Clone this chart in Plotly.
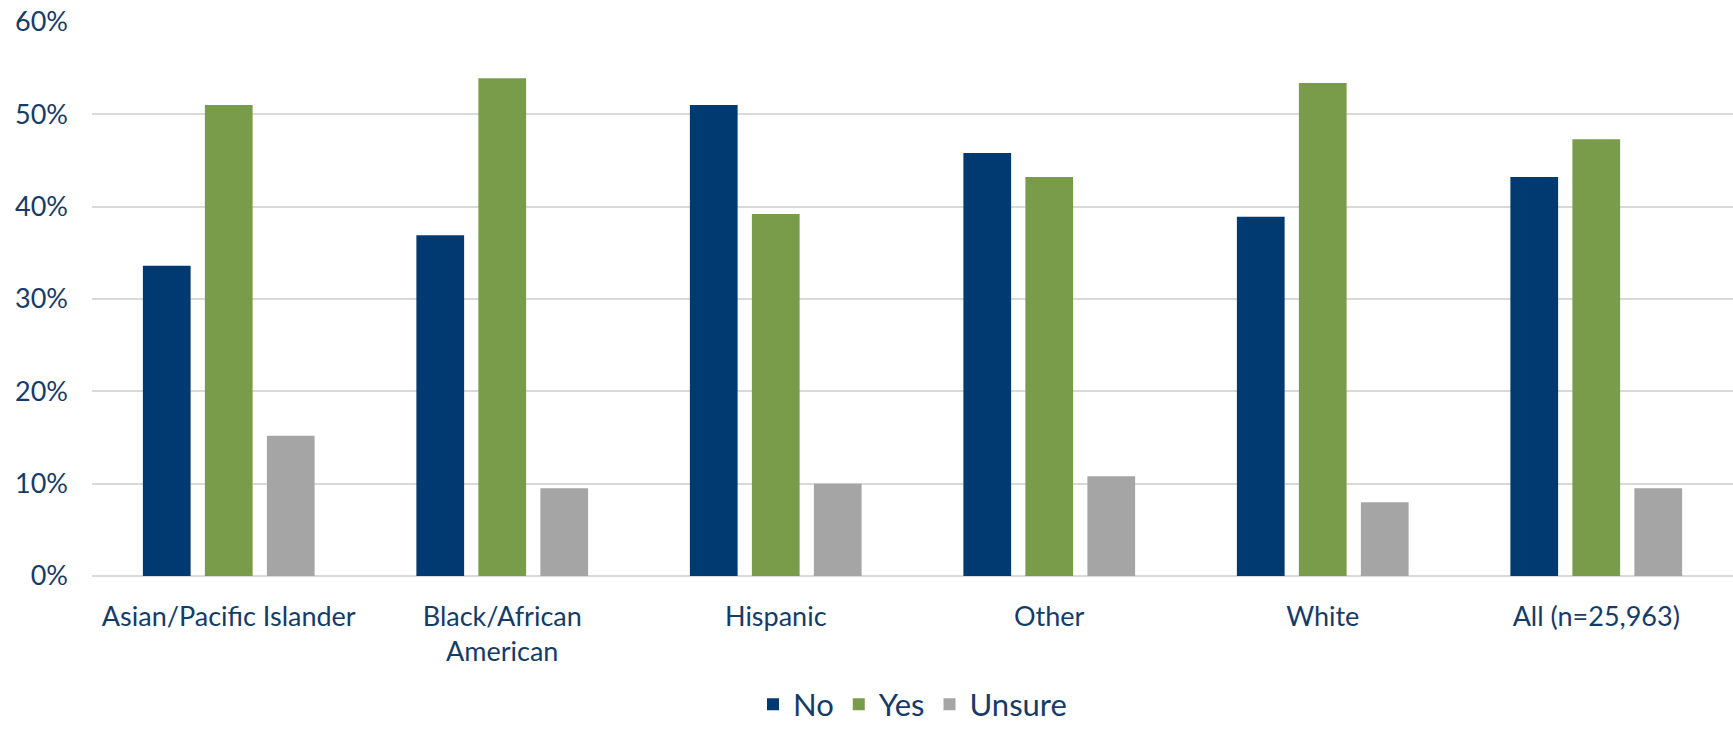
import plotly.graph_objects as go

categories = ["Asian/Pacific Islander", "Black/African<br>American", "Hispanic", "Other", "White", "All (n=25,963)"]
no_vals = [0.336, 0.369, 0.510, 0.458, 0.389, 0.432]
yes_vals = [0.510, 0.539, 0.392, 0.432, 0.534, 0.473]
unsure_vals = [0.152, 0.095, 0.100, 0.108, 0.080, 0.095]
tick_vals = [0, 0.1, 0.2, 0.3, 0.4, 0.5, 0.6]
tick_text = ["0%", "10%", "20%", "30%", "40%", "50%", "60%"]

text_color = "#143c6a"
font_family = "Lato, 'Open Sans', sans-serif"

fig = go.Figure()
for name, vals, color in [("No", no_vals, "#003a70"), ("Yes", yes_vals, "#789c4a"), ("Unsure", unsure_vals, "#a5a5a5")]:
    fig.add_trace(go.Bar(x=categories, y=vals, name=name, marker=dict(color=color, line=dict(width=0))))

fig.update_layout(
    width=1733, height=729,
    barmode="group", bargap=0.32, bargroupgap=0.23,
    plot_bgcolor="white", paper_bgcolor="white",
    margin=dict(l=92, r=0, t=22, b=153, autoexpand=False),
    font=dict(family=font_family, color=text_color),
    legend=dict(orientation="h", x=0.5, xanchor="center", y=-0.232, yanchor="middle",
                font=dict(size=31, color=text_color), traceorder="normal", itemwidth=30),
    showlegend=True,
)
fig.update_xaxes(showgrid=False, showline=False, zeroline=False, tickfont=dict(size=27, color=text_color),
                 ticks="", ticklabelstandoff=22, automargin=False)
fig.update_yaxes(range=[0, 0.6], tickvals=tick_vals, ticktext=tick_text, showgrid=True, gridcolor="#d9d9d9",
                 gridwidth=1.5, zeroline=True, zerolinecolor="#d9d9d9", zerolinewidth=1.5, showline=False,
                 tickfont=dict(size=27, color=text_color), ticklabelstandoff=23, automargin=False)

fig.write_html("out.html", config={"displayModeBar": False},
               post_script="document.body.style.margin='0px';document.body.style.overflow='hidden';")
